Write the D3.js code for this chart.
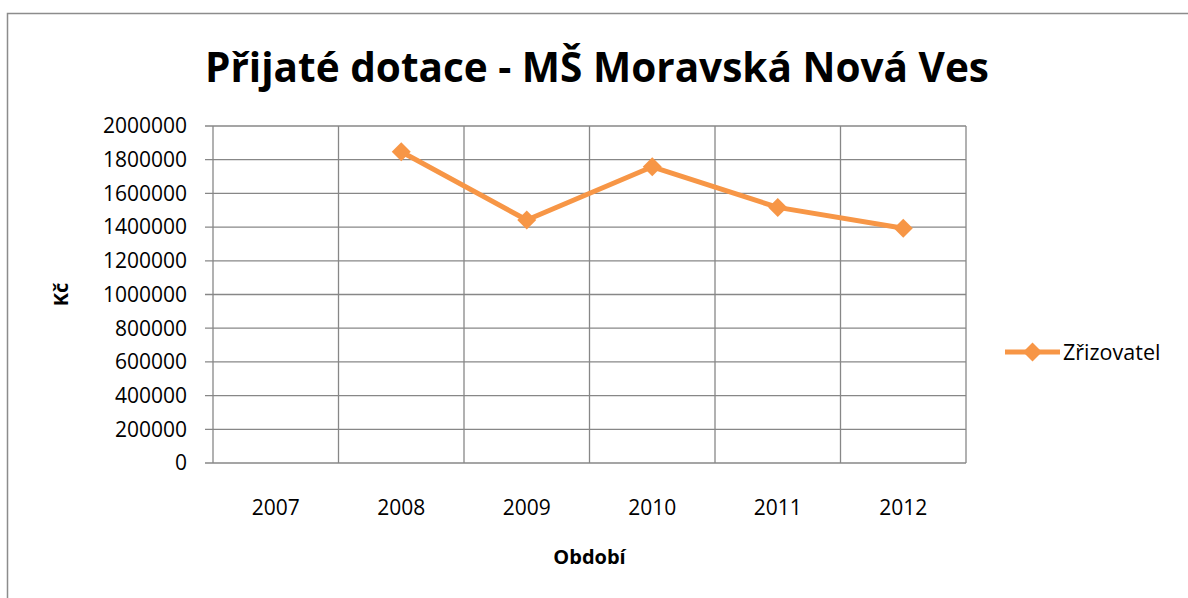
<!DOCTYPE html>
<html>
<head>
<meta charset="utf-8">
<script src="https://cdn.jsdelivr.net/npm/d3@7"></script>
<style>
  body { margin: 0; background: #fff; }
  text { font-family: "Open Sans", "Noto Sans", sans-serif; fill: #000; }
</style>
</head>
<body>
<div id="chart"></div>
<script>
const years = ["2007", "2008", "2009", "2010", "2011", "2012"];
const values = [null, 1847000, 1442000, 1758000, 1517000, 1393000];
const yTicks = [0, 200000, 400000, 600000, 800000, 1000000, 1200000, 1400000, 1600000, 1800000, 2000000];
const seriesName = "Zřizovatel";

const W = 1188, H = 598;
const plot = { left: 213, right: 966, top: 126, bottom: 463 };
const gridColor = "#878787";
const orange = "#F79646";

const svg = d3.select("#chart").append("svg")
    .attr("width", W)
    .attr("height", H);

// outer chart frame
svg.append("rect")
    .attr("x", 7.5).attr("y", 13.5)
    .attr("width", 1300).attr("height", 700)
    .attr("fill", "none")
    .attr("stroke", "#8c8c8c")
    .attr("stroke-width", 1.5);

// ---- Scales ----
const x = d3.scaleBand()
    .domain(years)
    .range([plot.left, plot.right]);

const y = d3.scaleLinear()
    .domain([0, 2000000])
    .range([plot.bottom, plot.top]);

// ---- Grid ----
svg.append("g")
    .selectAll("line")
    .data(yTicks)
    .enter()
    .append("line")
    .attr("x1", plot.left - 8)
    .attr("x2", plot.right)
    .attr("y1", d => y(d))
    .attr("y2", d => y(d))
    .attr("stroke", gridColor)
    .attr("stroke-width", 1.3);

const bounds = years.map(d => x(d)).concat([plot.right]);
svg.append("g")
    .selectAll("line")
    .data(bounds)
    .enter()
    .append("line")
    .attr("x1", d => d)
    .attr("x2", d => d)
    .attr("y1", plot.top)
    .attr("y2", plot.bottom)
    .attr("stroke", gridColor)
    .attr("stroke-width", 1.3);

// ---- Axis labels ----
svg.append("g")
    .selectAll("text")
    .data(yTicks)
    .enter()
    .append("text")
    .attr("x", 187)
    .attr("y", d => y(d))
    .attr("dy", "0.35em")
    .attr("text-anchor", "end")
    .style("font-size", "21px")
    .text(d => d);

svg.append("g")
    .selectAll("text")
    .data(years)
    .enter()
    .append("text")
    .attr("x", d => x(d) + x.bandwidth() / 2)
    .attr("y", 515)
    .attr("text-anchor", "middle")
    .style("font-size", "21px")
    .text(d => d);

// ---- Line + markers ----
const pts = years.map((yr, i) => ({ yr, v: values[i] })).filter(d => d.v != null);

const line = d3.line()
    .x(d => x(d.yr) + x.bandwidth() / 2)
    .y(d => y(d.v));

svg.append("path")
    .datum(pts)
    .attr("d", line)
    .attr("fill", "none")
    .attr("stroke", orange)
    .attr("stroke-width", 5)
    .attr("stroke-linejoin", "round");

const diamond = d3.symbol().type(d3.symbolDiamond2).size(230);
svg.append("g")
    .selectAll("path")
    .data(pts)
    .enter()
    .append("path")
    .attr("d", diamond)
    .attr("transform", d => `translate(${x(d.yr) + x.bandwidth() / 2},${y(d.v)})`)
    .attr("fill", orange);

// ---- Titles ----
svg.append("text")
    .attr("x", 597)
    .attr("y", 82)
    .attr("text-anchor", "middle")
    .attr("textLength", 784)
    .attr("lengthAdjust", "spacingAndGlyphs")
    .style("font-size", "41px")
    .style("font-weight", "bold")
    .text("Přijaté dotace - MŠ Moravská Nová Ves");

svg.append("text")
    .attr("x", (plot.left + plot.right) / 2)
    .attr("y", 564)
    .attr("text-anchor", "middle")
    .style("font-size", "20px")
    .style("font-weight", "bold")
    .text("Období");

svg.append("text")
    .attr("transform", `translate(68, ${(plot.top + plot.bottom) / 2}) rotate(-90)`)
    .attr("text-anchor", "middle")
    .style("font-size", "20px")
    .style("font-weight", "bold")
    .text("Kč");

// ---- Legend ----
const lg = svg.append("g").attr("transform", "translate(1005, 352)");
lg.append("line")
    .attr("x1", 0).attr("x2", 55)
    .attr("y1", 0).attr("y2", 0)
    .attr("stroke", orange)
    .attr("stroke-width", 5);
lg.append("path")
    .attr("d", diamond)
    .attr("transform", "translate(27.5,0)")
    .attr("fill", orange);
lg.append("text")
    .attr("x", 58)
    .attr("y", 0)
    .attr("dy", "0.35em")
    .style("font-size", "21.5px")
    .text(seriesName);
</script>
</body>
</html>
